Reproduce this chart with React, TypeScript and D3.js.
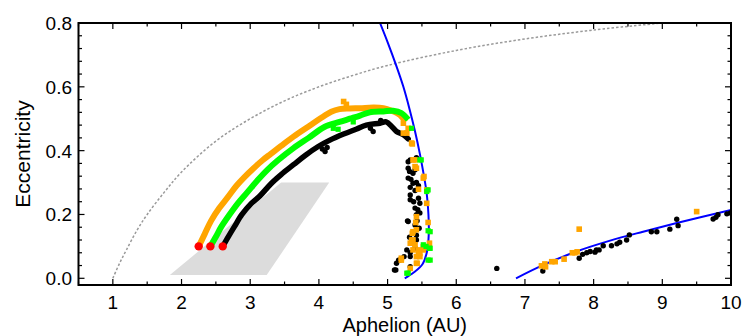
import React from "react";
import * as d3 from "d3";

const W = 742, H = 336;
const X_DOMAIN: [number, number] = [0.5, 10];
const Y_DOMAIN: [number, number] = [-0.021, 0.8];
const xMajor = [1, 2, 3, 4, 5, 6, 7, 8, 9, 10];
const xLabels = ["1", "2", "3", "4", "5", "6", "7", "8", "9", "10"];
const yMajor = [0, 0.2, 0.4, 0.6, 0.8];
const yLabels = ["0.0", "0.2", "0.4", "0.6", "0.8"];

// gray region (aphelion, eccentricity)
const grayRegion: [number, number][] = [[1.83, 0.01], [3.24, 0.01], [4.15, 0.30], [3.45, 0.30]];

// q = 1 AU reference (dotted)
const dottedCurve: [number, number][] = [
  [1.0, 0], [1.1, 0.048], [1.2, 0.09], [1.35, 0.15], [1.5, 0.2], [1.75, 0.27], [2.0, 0.333],
  [2.5, 0.43], [3.0, 0.5], [3.5, 0.556], [4.0, 0.6], [4.5, 0.636], [5.0, 0.667], [6.0, 0.714],
  [7.0, 0.75], [8.0, 0.778], [9.0, 0.8],
];

const blueCurveA: [number, number][] = [
  [4.89, 0.8], [5.0, 0.74], [5.13, 0.664], [5.23, 0.6], [5.32, 0.53], [5.40, 0.46], [5.47, 0.39],
  [5.53, 0.32], [5.57, 0.265], [5.595, 0.2], [5.6, 0.14], [5.575, 0.085], [5.51, 0.045],
  [5.38, 0.018], [5.25, 0.0],
];
const blueCurveB: [number, number][] = [
  [6.87, 0.0], [7.27, 0.042], [7.75, 0.084], [8.24, 0.118], [8.72, 0.146], [9.21, 0.173], [10.0, 0.214],
];

const orangeArc: [number, number][] = [
  [2.25, 0.10], [2.34, 0.14], [2.43, 0.18], [2.55, 0.22], [2.68, 0.256], [2.80, 0.29], [2.92, 0.318],
  [3.05, 0.345], [3.18, 0.37], [3.30, 0.39], [3.45, 0.415], [3.63, 0.444], [3.85, 0.476], [4.06, 0.506],
  [4.18, 0.522], [4.30, 0.53], [4.45, 0.532], [4.6, 0.533], [4.8, 0.535], [4.94, 0.533], [5.05, 0.526],
  [5.18, 0.512], [5.26, 0.49],
];
const orangePts: [number, number][] = [
  [4.36, 0.554], [4.40, 0.545], [5.23, 0.486], [5.23, 0.455], [5.28, 0.455], [5.30, 0.47], [5.35, 0.424],
  [5.36, 0.421], [5.37, 0.371], [5.40, 0.371], [5.40, 0.35], [5.42, 0.345], [5.53, 0.319], [5.52, 0.314],
  [5.45, 0.279], [5.57, 0.277], [5.57, 0.235], [5.59, 0.175], [5.41, 0.175], [5.42, 0.193], [5.42, 0.152],
  [5.37, 0.146], [5.36, 0.141], [5.37, 0.12], [5.35, 0.12], [5.33, 0.11], [5.40, 0.105], [5.61, 0.11],
  [5.56, 0.099], [5.52, 0.099], [5.52, 0.089], [5.45, 0.089], [5.37, 0.089], [5.47, 0.078], [5.45, 0.078],
  [5.47, 0.068], [5.42, 0.068], [5.42, 0.047], [5.43, 0.047], [5.20, 0.063], [5.20, 0.057], [5.33, 0.031],
  [7.24, 0.039], [7.29, 0.045], [7.30, 0.036], [7.39, 0.052], [7.44, 0.052], [7.57, 0.060], [7.69, 0.080],
  [7.73, 0.080], [7.76, 0.083], [7.79, 0.154], [9.50, 0.209],
];

const greenArc: [number, number][] = [
  [2.42, 0.10], [2.50, 0.13], [2.58, 0.162], [2.70, 0.20], [2.82, 0.235], [2.96, 0.27], [3.11, 0.308],
  [3.25, 0.34], [3.40, 0.369], [3.63, 0.408], [3.85, 0.44], [4.08, 0.474], [4.30, 0.49], [4.45, 0.50],
  [4.60, 0.51], [4.74, 0.52], [4.94, 0.523], [5.08, 0.525], [5.20, 0.518], [5.30, 0.497],
];
const greenPts: [number, number][] = [
  [4.28, 0.467], [4.21, 0.47], [4.50, 0.49], [5.35, 0.47], [5.47, 0.371], [5.49, 0.371], [5.57, 0.272],
  [5.59, 0.277], [5.59, 0.149], [5.62, 0.146], [5.62, 0.094], [5.61, 0.094], [5.56, 0.10], [5.52, 0.105],
  [5.59, 0.057], [5.62, 0.057], [5.30, 0.016], [5.28, 0.016],
];

const blackArc: [number, number][] = [
  [2.60, 0.10], [2.68, 0.13], [2.77, 0.162], [2.88, 0.20], [3.01, 0.233], [3.14, 0.258], [3.31, 0.298],
  [3.45, 0.325], [3.63, 0.356], [3.80, 0.385], [3.99, 0.413], [4.16, 0.433], [4.36, 0.452], [4.55, 0.468],
  [4.69, 0.48], [4.89, 0.486], [4.98, 0.49], [5.06, 0.476], [5.13, 0.46], [5.23, 0.45], [5.30, 0.437],
];
const blackPts: [number, number][] = [
  [4.09, 0.397], [4.12, 0.41], [4.05, 0.405], [4.79, 0.46], [4.75, 0.47], [4.90, 0.495], [5.42, 0.378],
  [5.33, 0.371], [5.30, 0.365], [5.30, 0.345], [5.37, 0.329], [5.32, 0.335], [5.40, 0.34], [5.30, 0.314],
  [5.34, 0.31], [5.37, 0.298], [5.42, 0.30], [5.33, 0.285], [5.45, 0.29], [5.40, 0.275], [5.33, 0.261],
  [5.45, 0.251], [5.33, 0.246], [5.47, 0.235], [5.38, 0.24], [5.40, 0.22], [5.44, 0.215], [5.42, 0.199],
  [5.47, 0.205], [5.29, 0.18], [5.30, 0.178], [5.40, 0.167], [5.46, 0.157], [5.43, 0.18], [5.37, 0.141],
  [5.42, 0.135], [5.32, 0.129], [5.42, 0.12], [5.38, 0.11], [5.40, 0.095], [5.28, 0.089], [5.33, 0.08],
  [5.33, 0.068], [5.24, 0.068], [5.18, 0.057], [5.16, 0.057], [5.13, 0.047], [5.10, 0.026], [5.12, 0.026],
  [5.33, 0.036], [6.59, 0.031],
  [7.26, 0.023], [7.79, 0.063], [7.84, 0.075], [7.90, 0.080], [7.95, 0.084], [8.02, 0.082], [8.04, 0.089],
  [8.08, 0.089], [8.14, 0.102], [8.26, 0.102], [8.34, 0.108], [8.38, 0.113], [8.48, 0.12], [8.52, 0.136],
  [8.84, 0.146], [8.92, 0.146], [9.11, 0.154], [9.21, 0.185], [9.23, 0.165], [9.74, 0.186], [9.78, 0.191],
  [9.81, 0.199], [9.94, 0.202], [9.99, 0.205],
];

const redPts: [number, number][] = [[2.25, 0.10], [2.42, 0.10], [2.60, 0.10]];

const L = 78.5, R = 731, T = 23, B = 285;

export default function App() {
  const x = d3.scaleLinear().domain(X_DOMAIN).range([L, R]);
  const y = d3.scaleLinear().domain(Y_DOMAIN).range([B, T]);
  const line = d3.line<[number, number]>().x((d) => x(d[0])).y((d) => y(d[1]));
  const smooth = d3.line<[number, number]>().x((d) => x(d[0])).y((d) => y(d[1])).curve(d3.curveCatmullRom);
  const xMinor = d3.range(0.5, 10.001, 0.5);
  const yMinor = d3.range(0, 0.8001, 0.04);
  const font = "'Liberation Sans', Arial, Helvetica, sans-serif";

  return (
    <svg width={W} height={H} style={{ position: "absolute", left: 0, top: 0, background: "#fff" }}>
      <defs>
        <clipPath id="plot">
          <rect x={L} y={T} width={R - L} height={B - T} />
        </clipPath>
      </defs>
      <g clipPath="url(#plot)">
        <path d={line(grayRegion)! + "Z"} fill="#dcdcdc" />
        <path d={smooth(dottedCurve)!} fill="none" stroke="#9a9a9a" strokeWidth={1.5} strokeDasharray="2.5,2" />
        <path d={smooth(blueCurveA)!} fill="none" stroke="#0000ff" strokeWidth={2} />
        <path d={smooth(blueCurveB)!} fill="none" stroke="#0000ff" strokeWidth={2} />
        <path d={smooth(blackArc)!} fill="none" stroke="#000" strokeWidth={5.5} strokeLinecap="round" />
        {blackPts.map((d, i) => (
          <circle key={"k" + i} cx={x(d[0])} cy={y(d[1])} r={2.7} fill="#000" />
        ))}
        <path d={smooth(orangeArc)!} fill="none" stroke="#ffa500" strokeWidth={6} />
        {orangePts.map((d, i) => (
          <rect key={"o" + i} x={x(d[0]) - 2.8} y={y(d[1]) - 2.8} width={5.6} height={5.6} fill="#ffa500" />
        ))}
        <path d={smooth(greenArc)!} fill="none" stroke="#00ff00" strokeWidth={6} />
        {greenPts.map((d, i) => (
          <rect key={"g" + i} x={x(d[0]) - 2.6} y={y(d[1]) - 2.6} width={5.2} height={5.2} fill="#00ff00" />
        ))}
        {redPts.map((d, i) => (
          <circle key={"r" + i} cx={x(d[0])} cy={y(d[1])} r={4.2} fill="#ff0000" />
        ))}
      </g>
      {/* ticks */}
      <g stroke="#000" strokeWidth={1.2}>
        {xMinor.map((v, i) => {
          const major = Number.isInteger(v);
          const len = major ? 6 : 3.5;
          return (
            <g key={"xt" + i}>
              <line x1={x(v)} x2={x(v)} y1={B} y2={B - len} />
              <line x1={x(v)} x2={x(v)} y1={T} y2={T + len} />
            </g>
          );
        })}
        {yMinor.map((v, i) => {
          const major = i % 5 === 0;
          const len = major ? 6 : 3.5;
          return (
            <g key={"yt" + i}>
              <line x1={L} x2={L + len} y1={y(v)} y2={y(v)} />
              <line x1={R} x2={R - len} y1={y(v)} y2={y(v)} />
            </g>
          );
        })}
      </g>
      <rect x={L} y={T} width={R - L} height={B - T} fill="none" stroke="#000" strokeWidth={2} />
      <g fontFamily={font} fontSize={19} fill="#000">
        {xMajor.map((v, i) => (
          <text key={"xl" + i} x={x(v)} y={309} textAnchor="middle">{xLabels[i]}</text>
        ))}
        {yMajor.map((v, i) => (
          <text key={"yl" + i} x={72} y={y(v) + 7} textAnchor="end">{yLabels[i]}</text>
        ))}
      </g>
      <text x={(L + R) / 2} y={332} textAnchor="middle" fontFamily={font} fontSize={20}>Aphelion (AU)</text>
      <text transform={`translate(30,${(T + B) / 2}) rotate(-90)`} textAnchor="middle" fontFamily={font} fontSize={21}>Eccentricity</text>
    </svg>
  );
}
